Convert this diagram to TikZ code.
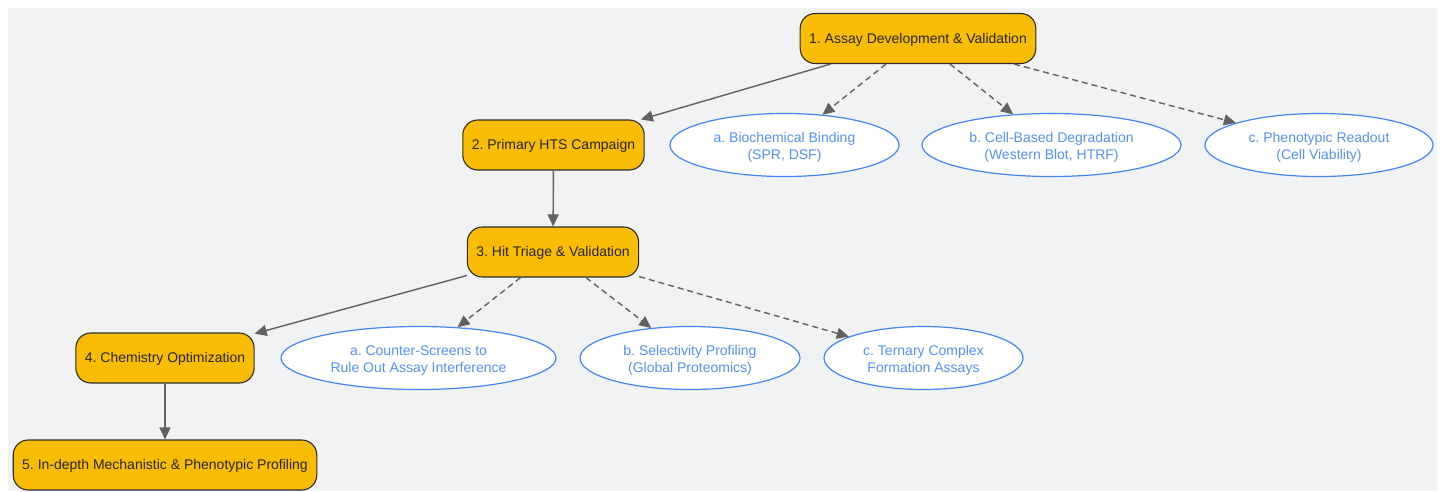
\documentclass[tikz,border=0pt]{standalone}
\usepackage{fontspec}
\setmainfont{Liberation Sans}
\usetikzlibrary{arrows.meta,shapes.geometric}
\frenchspacing
\definecolor{bg}{HTML}{F1F2F4}
\definecolor{stepfill}{HTML}{FBBC05}
\definecolor{stepline}{HTML}{2E2E2E}
\definecolor{subblue}{HTML}{4285F4}
\definecolor{edgegray}{HTML}{616161}
\newcommand{\toplift}{\rule{0pt}{14pt}}
\tikzset{
  stepbox/.style={draw=stepline, line width=1.1pt, fill=stepfill, rounded corners=15pt,
    minimum height=50pt, inner xsep=9pt, inner ysep=0pt, text=black!85,
    text height=12pt, text depth=3pt,
    font=\frenchspacing\fontsize{14}{17}\selectfont},
  subnode/.style={ellipse, draw=subblue, line width=1.2pt, fill=white, text=subblue!90!white,
    inner sep=0pt, minimum height=63pt, align=center,
    font=\frenchspacing\fontsize{14}{17}\selectfont},
  solidedge/.style={draw=edgegray, line width=1.4pt, -{Triangle[length=12pt,width=11pt]}},
  dashedge/.style={solidedge, dash pattern=on 6pt off 4pt},
}
\begin{document}
\begin{tikzpicture}[x=1pt,y=-1pt]
\useasboundingbox (0,0) rectangle (1445,491);
\fill[bg] (8,8) rectangle (1437,491);
\node[stepbox] (s1) at (918,38.5) {1. Assay Development \& Validation};
\node[stepbox] (s2) at (553.5,145) {2. Primary HTS Campaign};
\node[stepbox] (s3) at (553,252) {3. Hit Triage \& Validation};
\node[stepbox] (s4) at (165,358) {4. Chemistry Optimization};
\node[stepbox] (s5) at (165,465) {5. In-depth Mechanistic \& Phenotypic Profiling};
\node[subnode, minimum width=229pt] (a1) at (784.5,145) {\toplift a. Biochemical Binding\\(SPR, DSF)};
\node[subnode, minimum width=259pt] (b1) at (1051.5,145) {\toplift b. Cell-Based Degradation\\(Western Blot, HTRF)};
\node[subnode, minimum width=228pt] (c1) at (1319,145) {\toplift c. Phenotypic Readout\\(Cell Viability)};
\node[subnode, minimum width=275pt] (a3) at (418.5,358) {\toplift a. Counter-Screens to\\Rule Out Assay Interference};
\node[subnode, minimum width=220pt] (b3) at (690,358) {\toplift b. Selectivity Profiling\\(Global Proteomics)};
\node[subnode, minimum width=199pt] (c3) at (923.5,358) {\toplift c. Ternary Complex\\Formation Assays};
\draw[solidedge] (s1) -- (s2);
\draw[dashedge] (s1) -- (a1);
\draw[dashedge] (s1) -- (b1);
\draw[dashedge] (s1) -- (c1);
\draw[solidedge] (s2) -- (s3);
\draw[solidedge] (s3) -- (s4);
\draw[dashedge] (s3) -- (a3);
\draw[dashedge] (s3) -- (b3);
\draw[dashedge] (s3) -- (c3);
\draw[solidedge] (s4) -- (s5);
\end{tikzpicture}
\end{document}
